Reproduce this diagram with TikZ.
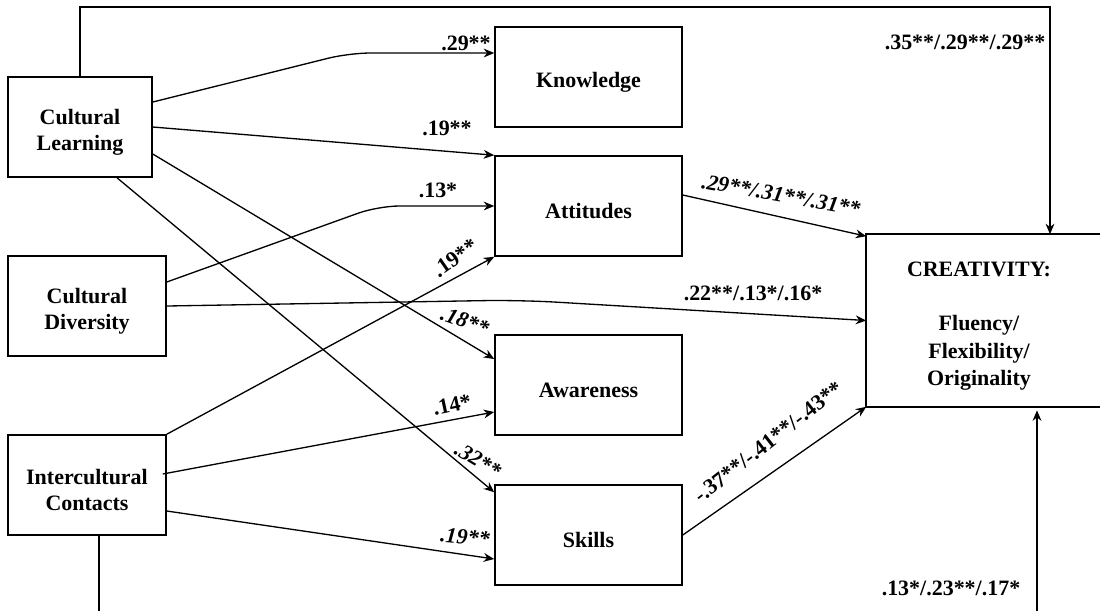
\documentclass[tikz,border=0pt]{standalone}
\usepackage{fontspec}
\setmainfont{Liberation Serif}
\usetikzlibrary{arrows.meta,calc}
\newcommand{\diagfont}{\fontsize{12.5}{14.5}\selectfont\bfseries}
\newcommand{\topstrut}{\rule{0pt}{14.5pt}} % pushes box text a little down
\tikzset{
    var/.style={draw, line width=0.9pt, minimum height=2cm, align=center, font=\diagfont}, % boxes of the model
    path arrow/.style={line width=0.75pt, -{Stealth[length=6pt,width=5pt]}}, % paths between boxes
    coef/.style={font=\diagfont, inner sep=1pt}, % path coefficients
    coefit/.style={font=\diagfont\itshape, inner sep=1pt}
}

\begin{document}
\begin{tikzpicture}[x=0.02cm, y=-0.02cm]
    \useasboundingbox (0,0) rectangle (1100,610);

    % predictors
    \node[var, minimum width=2.88cm] (cl) at (80,127) {\topstrut Cultural\\Learning};
    \node[var, minimum width=3.16cm] (cd) at (87,306) {\topstrut Cultural\\Diversity};
    \node[var, minimum width=3.16cm] (ic) at (87,485) {\topstrut Intercultural\\Contacts};

    % mediators
    \node[var, minimum width=3.74cm] (know)  at (588.5,77)  {\topstrut Knowledge};
    \node[var, minimum width=3.74cm] (att)   at (588.5,206) {\topstrut Attitudes};
    \node[var, minimum width=3.74cm] (aware) at (588.5,385) {\topstrut Awareness};
    \node[var, minimum width=3.74cm] (skill) at (588.5,535) {\topstrut Skills};

    % outcome
    \node[var, draw=none, minimum width=4.48cm, minimum height=3.42cm,
        font=\fontsize{12.5}{15.6}\selectfont\bfseries] (crea) at (979,320.5)
        {\topstrut CREATIVITY:\\[15.6pt]Fluency/\\Flexibility/\\Originality};
    \draw[line width=0.9pt] (crea.south west) rectangle ($(crea.north east)+(40,0)$);

    % paths
    \draw[path arrow, rounded corners=12pt] ($(cl.east)+(0,-25)$) -- ($(know.west)+(-145,-24)$) -- ($(know.west)+(0,-24)$);
    \draw[path arrow] (cl.east) -- (att.north west);
    \draw[path arrow, rounded corners=12pt] ($(cd.east)+(0,-24)$) -- ($(att.west)+(-116,0)$) -- (att.west);
    \draw[path arrow] (ic.north east) -- (att.south west);
    \draw[path arrow] ($(cl.east)+(0,27)$) -- ($(aware.west)+(0,-26)$);
    \draw[path arrow] ($(cl.south)+(37,0)$) -- ($(skill.north west)+(0,8)$);
    \draw[path arrow, rounded corners=20pt] (cd.east) -- (520,300) -- (crea.west);
    \draw[path arrow] ($(ic.east)+(-4,-11)$) -- ($(aware.west)+(0,27)$);
    \draw[path arrow] ($(ic.east)+(0,26)$) -- ($(skill.west)+(0,24)$);
    \draw[path arrow] ($(att.east)+(0,-11)$) -- ($(crea.north west)+(0,2)$);
    \draw[path arrow] (skill.east) -- (crea.south west);

    \coordinate (top) at (1050,7);
    \draw[path arrow] (cl.north) |- (top) -- (top |- crea.north);
    \coordinate (bottom) at (1037,640);
    \draw[path arrow, shorten >=2pt] ($(ic.south)+(12,0)$) |- (bottom) -- (bottom |- crea.south);

    % coefficients
    \node[coef] (k1) at (466,43) {.29**};
    \node[coef] (a1) at (447,128) {.19**};
    \node[coef] (a2) at (438,190) {.13*};
    \node[coef, rotate=35] (a3) at (455,258) {.19**};
    \node[coefit, rotate=-20] (w1) at (465,321) {.18**};
    \node[coef, rotate=12] (w2) at (452,405) {.14*};
    \node[coefit, rotate=-31] (s1) at (478,460) {.32**};
    \node[coefit, rotate=-5] (s2) at (465,537) {.19**};
    \node[coef] (d1) at (753,293) {.22**/.13*/.16*};
    \node[coefit, rotate=-10] (t1) at (781,195) {.29**/.31**/.31**};
    \node[coef, rotate=38] (t2) at (768,442) {-.37**/-.41**/-.43**};
    \node[coef] (t3) at (965,42) {.35**/.29**/.29**};
    \node[coef] (t4) at (951,588) {.13*/.23**/.17*};
\end{tikzpicture}
\end{document}
